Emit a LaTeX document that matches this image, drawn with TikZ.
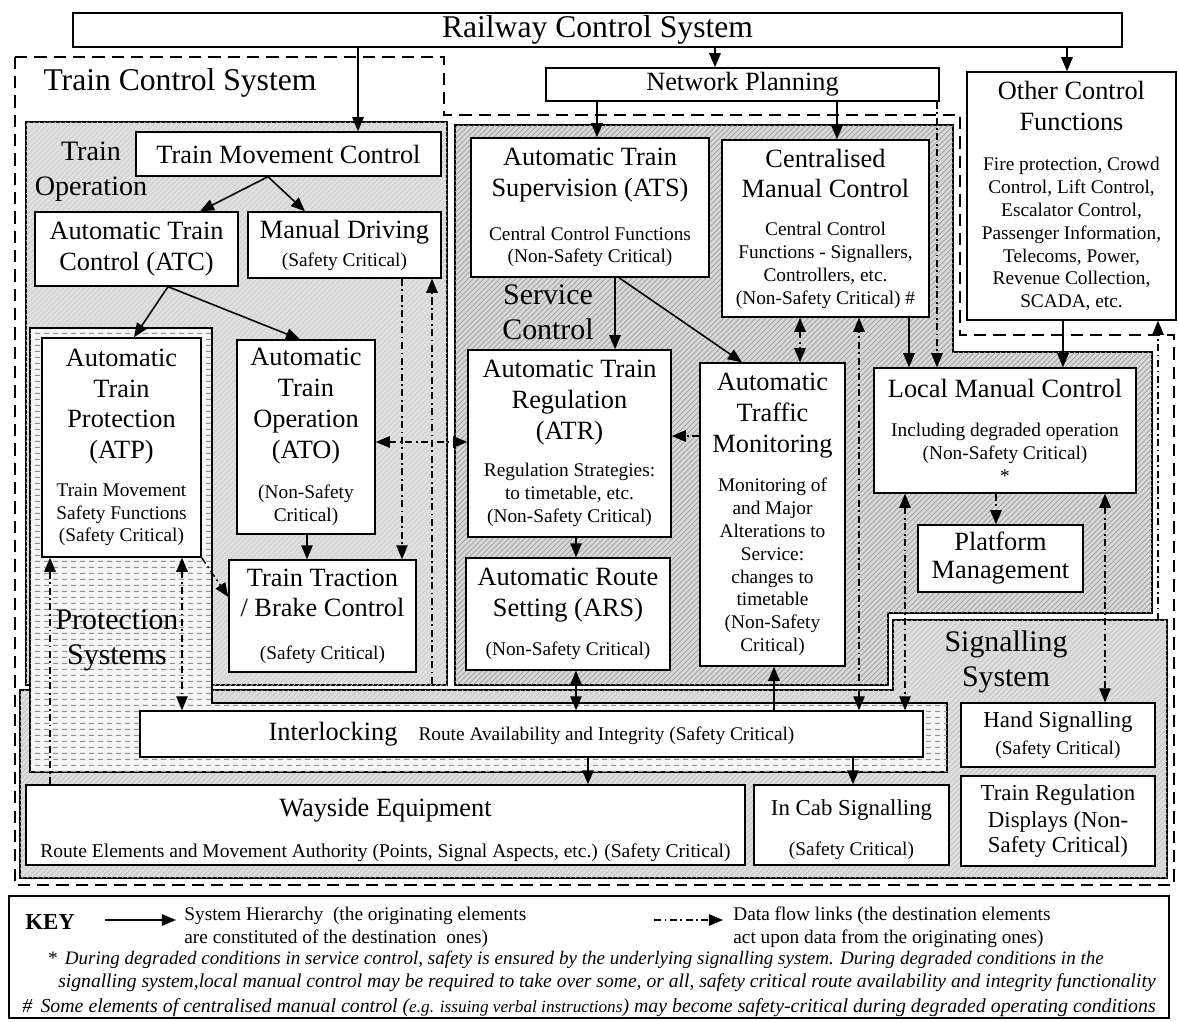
\documentclass[tikz,border=0pt]{standalone}
\usepackage{fontspec}
\setmainfont{Liberation Serif}
\usetikzlibrary{arrows.meta,patterns,patterns.meta}

\newcommand{\sm}{\fontsize{11}{13}\selectfont}
\newcommand{\ttl}{\fontsize{15}{17.5}\selectfont}
\newcommand{\rgn}{\fontsize{17}{19.8}\selectfont}

\tikzdeclarepattern{
  name=dashrows,
  type=uncolored,
  bounding box={(0pt,0pt) and (5pt,3.2pt)},
  tile size={(5pt,3.2pt)},
  code={\draw[line width=0.7pt] (0pt,1.6pt) -- (3pt,1.6pt);}
}

\begin{document}
\begin{tikzpicture}[x=0.02cm, y=-0.02cm,
  >={Triangle[length=8pt,width=6.5pt]},
  box/.style={draw, fill=white, line width=0.8pt, align=center, inner sep=1pt, font=\ttl},
  sz/.style 2 args={minimum width=#1*0.02cm, minimum height=#2*0.02cm},
  region/.style={draw, line width=0.6pt},
  trainop/.style={region, fill=gray!24, postaction={pattern=north east lines, pattern color=gray!40}},
  service/.style={region, fill=gray!30, postaction={pattern=north east lines, pattern color=gray!78}},
  signalling/.style={region, fill=gray!26, postaction={pattern=north east lines, pattern color=gray!48}},
  protection/.style={region, fill=gray!8, postaction={pattern=dashrows, pattern color=gray!85}},
  rgnlabel/.style={font=\rgn, align=center, inner sep=0pt},
  hier/.style={->, line width=0.9pt},
  flow/.style={->, line width=0.8pt, dash pattern=on 4pt off 2pt on 1pt off 2pt},
  outline/.style={line width=1.1pt, dash pattern=on 7pt off 4pt}]

  \fill[white] (0,0) rectangle (1179,1021);
  \useasboundingbox (0,0) rectangle (1179,1021);

  % system boundary and shaded areas
  \draw[outline] (15,57) -- (444,57) -- (444,115) -- (960,115) -- (960,335)
    -- (1174,335) -- (1174,885) -- (15,885) -- cycle;
  \path[signalling] (20,690) -- (893,690) -- (893,620) -- (1167,620)
    -- (1167,878) -- (20,878) -- cycle;
  \path[trainop] (26,122) rectangle (447,685);
  \path[service] (455,125) -- (953,125) -- (953,352) -- (1152,352) -- (1152,613)
    -- (888,613) -- (888,685) -- (455,685) -- cycle;
  \path[protection] (30,328) -- (212,328) -- (212,703) -- (947,703) -- (947,772)
    -- (30,772) -- cycle;

  \node[rgnlabel, font=\fontsize{18}{20}\selectfont] (tcsl) at (180,83) {Train Control System};
  \node[rgnlabel, font=\fontsize{16}{19.8}\selectfont] (tol) at (91,172) {Train\\Operation};
  \node[rgnlabel] (scl) at (548,312) {Service\\Control};
  \node[rgnlabel] (psl) at (117,640) {Protection\\Systems};
  \node[rgnlabel] (ssl) at (1006,662) {Signalling\\System};

  % boxes
  \node[box, sz={1049}{34}, font=\fontsize{18}{20}\selectfont] (rcs) at (597.5,30) {Railway Control System};
  \node[box, sz={393}{33}] (np) at (742.5,84.5) {Network Planning};
  \node[box, sz={209}{248}] (ocf) at (1071.5,196) {Other Control\\Functions\\[5.5pt]{\sm Fire protection, Crowd}\\[-4.5pt]{\sm Control, Lift Control,}\\[-4.5pt]{\sm Escalator Control,}\\[-4.5pt]{\sm Passenger Information,}\\[-4.5pt]{\sm Telecoms, Power,}\\[-4.5pt]{\sm Revenue Collection,}\\[-4.5pt]{\sm SCADA, etc.}};

  \node[box, sz={305}{44}] (tmc) at (288.5,154) {Train Movement Control};
  \node[box, sz={203}{74}] (atc) at (136.5,249) {Automatic Train\\Control (ATC)};
  \node[box, sz={193}{66}] (md) at (344.5,245) {Manual Driving\\[-1.5pt]{\sm (Safety Critical)}};
  \node[box, sz={159}{219}] (atp) at (121.5,447.5) {Automatic\\Train\\Protection\\(ATP)\\[4pt]{\sm Train Movement}\\[-4.5pt]{\sm Safety Functions}\\[-4.5pt]{\sm (Safety Critical)}};
  \node[box, sz={138}{194}] (ato) at (306,437) {Automatic\\Train\\Operation\\(ATO)\\[5.5pt]{\sm (Non-Safety}\\[-4.5pt]{\sm Critical)}};
  \node[box, sz={187}{112}] (ttb) at (322.5,616) {Train Traction\\/ Brake Control\\[6.5pt]{\sm (Safety Critical)}};

  \node[box, sz={238}{139}] (ats) at (590,207.5) {Automatic Train\\Supervision (ATS)\\[7.5pt]{\sm Central Control Functions}\\[-4.5pt]{\sm (Non-Safety Critical)}};
  \node[box, sz={207}{177}] (cmc) at (825.5,228.5) {Centralised\\Manual Control\\[4pt]{\sm Central Control}\\[-4.5pt]{\sm Functions - Signallers,}\\[-4.5pt]{\sm Controllers, etc.}\\[-4.5pt]{\sm (Non-Safety Critical) \#}};
  \node[box, sz={203}{187}] (atr) at (569.5,443.5) {Automatic Train\\Regulation\\(ATR)\\[4pt]{\sm Regulation Strategies:}\\[-4.5pt]{\sm to timetable, etc.}\\[-4.5pt]{\sm (Non-Safety Critical)}};
  \node[box, sz={145}{303}] (atm) at (772.5,514.5) {Automatic\\Traffic\\Monitoring\\[5pt]{\sm Monitoring of}\\[-4.5pt]{\sm and Major}\\[-4.5pt]{\sm Alterations to}\\[-4.5pt]{\sm Service:}\\[-4.5pt]{\sm changes to}\\[-4.5pt]{\sm timetable}\\[-4.5pt]{\sm (Non-Safety}\\[-4.5pt]{\sm Critical)}};
  \node[box, sz={204}{112}] (ars) at (568,614) {Automatic Route\\Setting (ARS)\\[5pt]{\sm (Non-Safety Critical)}};
  \node[box, sz={262}{125}] (lmc) at (1005,430.5) {Local Manual Control\\[5pt]{\sm Including degraded operation}\\[-4.5pt]{\sm (Non-Safety Critical)}\\[-4.5pt]{\sm *}};
  \node[box, sz={165}{67}] (pm) at (1000.5,558.5) {Platform\\[-1.5pt]Management};

  \node[box, sz={783}{46}] (il) at (531.5,734) {Interlocking\hspace{12pt}{\sm Route Availability and Integrity (Safety Critical)}};
  \node[box, sz={719}{80}] (we) at (385.5,825) {\rule{0pt}{16pt}Wayside Equipment\\[6pt]{\fontsize{11.1}{13}\selectfont Route Elements and Movement Authority (Points, Signal Aspects, etc.) (Safety Critical)}};
  \node[box, sz={195}{80}, font=\fontsize{13}{15}\selectfont] (ics) at (851.5,825) {\rule{0pt}{14pt}In Cab Signalling\\[8pt]{\sm (Safety Critical)}};
  \node[box, sz={194}{64}, font=\fontsize{13}{15}\selectfont] (hs) at (1058,735) {Hand Signalling\\[0pt]{\sm (Safety Critical)}};
  \node[box, sz={194}{90}, font=\fontsize{13}{15}\selectfont] (trd) at (1058,821) {Train Regulation\\[0.5pt]Displays (Non-\\[-1pt]Safety Critical)};

  % system hierarchy
  \path[hier]
    (rcs.south -| 358,0) edge (tmc.north -| 358,0)
    (rcs.south -| 715,0) edge (np.north -| 715,0)
    (rcs.south -| 1067,0) edge (ocf.north -| 1067,0)
    (np.south -| 597,0) edge (ats.north -| 597,0)
    (np.south -| 837,0) edge (cmc.north -| 837,0);

  \path[hier]
    (tmc.south -| 268,0) edge (atc.north -| 200,0)
    (tmc.south -| 268,0) edge (md.north -| 305,0)
    (atc.south -| 168,0) edge (atp.north -| 134,0)
    (atc.south -| 168,0) edge (ato.north -| 300,0)
    (ato.south -| 307,0) edge (ttb.north -| 307,0);

  \path[hier]
    (ats.south -| 615,0) edge (atr.north -| 615,0)
    (ats.south -| 619,0) edge (atm.north -| 742,0)
    (cmc.south -| 909,0) edge (lmc.north -| 909,0)
    (ocf.south -| 1063,0) edge (lmc.north -| 1063,0)
    (atr.south -| 576,0) edge (ars.north -| 576,0)
    (ars.south -| 576,0) edge[<->] (il.north -| 576,0)
    (il.north -| 774,0) edge (atm.south -| 774,0)
    (il.south -| 588,0) edge (we.north -| 588,0)
    (il.south -| 853,0) edge (ics.north -| 853,0);

  % data flow
  \coordinate (mdin) at (432,684);
  \coordinate (sigtop) at (1158,620);
  \path[flow]
    (md.south -| 402,0) edge (ttb.north -| 402,0)
    (mdin) edge (md.south -| 432,0)
    (ato.east |- 0,442) edge[<->] (atr.west |- 0,442)
    (atm.west |- 0,436) edge (atr.east |- 0,436)
    (atp.south -| 182,0) edge[<->] (il.north -| 182,0)
    (we.north -| 50,0) edge (atp.south -| 50,0)
    (atp.south east) edge (ttb.west |- 0,597);

  \path[flow]
    (cmc.south -| 800,0) edge[<->] (atm.north -| 800,0)
    (il.north -| 859,0) edge[<->] (cmc.south -| 859,0)
    (np.south -| 937,0) edge (lmc.north -| 937,0)
    (lmc.south -| 905,0) edge[<->] (il.north -| 905,0)
    (lmc.south -| 1105,0) edge[<->] (hs.north -| 1105,0)
    (lmc.south -| 996,0) edge (pm.north -| 996,0)
    (sigtop) edge (ocf.south -| 1158,0);

  % key
  \node[draw, line width=0.8pt, sz={1160}{122}] (key) at (589,957) {};
  \node[font=\bfseries\fontsize{13}{15}\selectfont] (keyl) at (50,922) {KEY};
  \coordinate (k1) at (105,920);
  \coordinate (k2) at (176,920);
  \coordinate (k3) at (654,920);
  \coordinate (k4) at (723,920);
  \draw[hier] (k1) -- (k2);
  \draw[flow] (k3) -- (k4);
  \node[anchor=west, align=left, font=\sm, inner sep=0pt] (hiertxt) at (184,927) {System Hierarchy \ (the originating elements\\are constituted of the destination \ ones)};
  \node[anchor=west, align=left, font=\sm, inner sep=0pt] (flowtxt) at (733,927) {Data flow links (the destination elements\\act upon data from the originating ones)};
  \node[anchor=west, font=\fontsize{10.85}{13}\selectfont\itshape, inner sep=0pt] (note1) at (47,960) {* \,During degraded conditions in service control, safety is ensured by the underlying signalling system. During degraded conditions in the};
  \node[anchor=west, font=\fontsize{11.15}{13}\selectfont\itshape, inner sep=0pt] (note2) at (58,983) {signalling system,local manual control may be required to take over some, or all, safety critical route availability and integrity functionality};
  \node[anchor=west, font=\fontsize{11.3}{13}\selectfont\itshape, inner sep=0pt] (note3) at (22,1008) {\# \,Some elements of centralised manual control ({\fontsize{9.8}{11}\selectfont e.g. issuing verbal instructions}) may become safety-critical during degraded operating conditions};

\end{tikzpicture}
\end{document}
